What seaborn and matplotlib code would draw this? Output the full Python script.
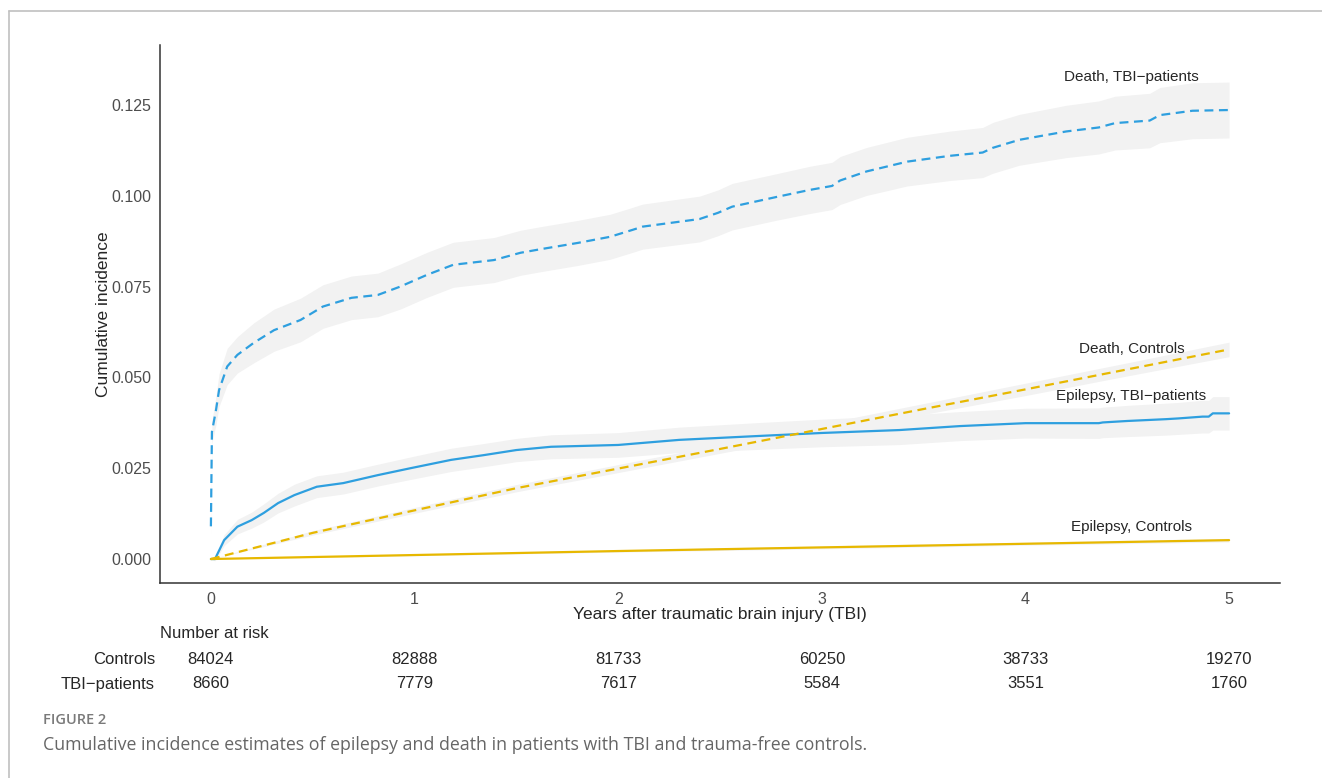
import numpy as np
import pandas as pd
import matplotlib.pyplot as plt
import matplotlib.transforms as mtransforms
from matplotlib.lines import Line2D
import seaborn as sns

# cumulative incidence (time in years)
dtbi_t = [0, 0.005, 0.025, 0.04, 0.08, 0.13, 0.21, 0.31, 0.44, 0.55, 0.69, 0.82, 0.93, 1.06,
          1.19, 1.39, 1.52, 1.62, 1.80, 1.96, 2.07, 2.12, 2.40, 2.49, 2.56, 2.78, 2.94, 3.05,
          3.09, 3.22, 3.42, 3.63, 3.79, 3.84, 3.97, 4.20, 4.36, 4.44, 4.61, 4.66, 4.82, 5.00]
dtbi_v = [0.009, 0.035, 0.041, 0.0465, 0.053, 0.0562, 0.0595, 0.063, 0.0658, 0.0695, 0.0719,
          0.0727, 0.075, 0.0782, 0.081, 0.0823, 0.0843, 0.0853, 0.087, 0.0887, 0.0906, 0.0915,
          0.0936, 0.0953, 0.097, 0.0997, 0.1016, 0.1027, 0.1042, 0.1067, 0.1094, 0.111, 0.1119,
          0.1132, 0.1154, 0.1177, 0.1188, 0.120, 0.1207, 0.1222, 0.1234, 0.1236]
dtbi_ci = [0.002, 0.003, 0.004, 0.0045, 0.005, 0.005, 0.0055, 0.0058, 0.006, 0.006, 0.006,
           0.006, 0.0062, 0.0062, 0.0062, 0.0062, 0.0062, 0.0062, 0.0062, 0.0062, 0.0062,
           0.0062, 0.0063, 0.0063, 0.0064, 0.0064, 0.0065, 0.0065, 0.0066, 0.0066, 0.0067,
           0.0068, 0.0069, 0.007, 0.007, 0.0072, 0.0073, 0.0074, 0.0075, 0.0076, 0.0077, 0.0077]

etbi_t = [0, 0.02, 0.065, 0.13, 0.20, 0.26, 0.33, 0.41, 0.52, 0.65, 0.82, 0.98, 1.18, 1.34,
          1.50, 1.67, 2.00, 2.30, 2.70, 3.00, 3.38, 3.68, 4.00, 4.36, 4.38, 4.50, 4.69, 4.75,
          4.87, 4.90, 4.92, 5.00]
etbi_v = [0, 0.0, 0.0052, 0.0089, 0.0107, 0.0127, 0.0154, 0.0176, 0.0199, 0.0209, 0.0231,
          0.025, 0.0273, 0.0286, 0.030, 0.0309, 0.0314, 0.0328, 0.0339, 0.0347, 0.0355, 0.0366,
          0.0374, 0.0374, 0.0376, 0.038, 0.0385, 0.0387, 0.0392, 0.0392, 0.0401, 0.0401]
etbi_ci = [0, 0.0005, 0.0015, 0.002, 0.0022, 0.0025, 0.0027, 0.003, 0.003, 0.003, 0.003,
           0.0031, 0.0032, 0.0032, 0.0032, 0.0033, 0.0034, 0.0035, 0.0037, 0.0038, 0.004,
           0.004, 0.0041, 0.0042, 0.0042, 0.0043, 0.0044, 0.0044, 0.0045, 0.0045, 0.0046, 0.0046]

dctl_t = [0, 0.5, 1, 1.5, 2, 2.5, 3, 3.5, 4, 4.5, 5]
dctl_v = [0, 0.0072, 0.0134, 0.0195, 0.0249, 0.0303, 0.0358, 0.0413, 0.0467, 0.0522, 0.0577]
dctl_ci = [0, 0.0006, 0.0008, 0.001, 0.0011, 0.0012, 0.0014, 0.0015, 0.0017, 0.0018, 0.002]

ectl_t = [0, 1, 2, 3, 4, 5]
ectl_v = [0, 0.0011, 0.0022, 0.0032, 0.0042, 0.0052]
ectl_ci = [0, 0.0002, 0.0003, 0.0004, 0.0004, 0.0005]

risk_times = [0, 1, 2, 3, 4, 5]
risk_controls = [84024, 82888, 81733, 60250, 38733, 19270]
risk_tbi = [8660, 7779, 7617, 5584, 3551, 1760]

parts = []
for ev, grp, t, v, ci in [('Death', 'TBI-patients', dtbi_t, dtbi_v, dtbi_ci),
                          ('Epilepsy', 'TBI-patients', etbi_t, etbi_v, etbi_ci),
                          ('Death', 'Controls', dctl_t, dctl_v, dctl_ci),
                          ('Epilepsy', 'Controls', ectl_t, ectl_v, ectl_ci)]:
    parts.append(pd.DataFrame({'time': t, 'cif': v, 'ci': ci, 'event': ev, 'group': grp}))
df = pd.concat(parts, ignore_index=True)

sns.set_style("white")
plt.rcParams['font.family'] = ['Liberation Sans', 'DejaVu Sans']

W, H = 1322, 778
fig = plt.figure(figsize=(W / 100, H / 100), dpi=100)
ax = fig.add_axes([160 / W, 195 / H, 1120 / W, 538 / H])

# confidence bands
for (ev, grp), sub in df.groupby(['event', 'group']):
    ax.fill_between(sub['time'], sub['cif'] - sub['ci'], sub['cif'] + sub['ci'],
                    color='#f2f2f2', lw=0, zorder=1)

sns.lineplot(data=df, x='time', y='cif', hue='group', style='event',
             palette={'Controls': '#E7B800', 'TBI-patients': '#2E9FDF'},
             dashes={'Death': (4, 2.5), 'Epilepsy': ''},
             estimator=None, sort=False, lw=1.6, legend=False, ax=ax, zorder=3)

ax.set_xlim(-0.25, 5.25)
ax.set_ylim(-0.0066, 0.1415)
ax.set_xticks(risk_times)
ax.set_yticks([0, 0.025, 0.05, 0.075, 0.1, 0.125])
ax.yaxis.set_major_formatter(plt.FuncFormatter(lambda v, p: f'{v:.3f}'))
for s in ['top', 'right']:
    ax.spines[s].set_visible(False)
for s in ['left', 'bottom']:
    ax.spines[s].set_color('#333333')
    ax.spines[s].set_linewidth(1.1)
ax.tick_params(length=3.5, width=0.8, color='#333333', labelsize=11.5,
               labelcolor='#4d4d4d', pad=3)
ax.set_xlabel('Years after traumatic brain injury (TBI)', fontsize=12.5, labelpad=0)
ax.set_ylabel('Cumulative incidence', fontsize=12.5, labelpad=0)

# curve labels
ax.text(4.52, 0.1327, 'Death, TBI\u2212patients', ha='center', va='center', fontsize=11)
ax.text(4.52, 0.0578, 'Death, Controls', ha='center', va='center', fontsize=11)
ax.text(4.52, 0.0449, 'Epilepsy, TBI\u2212patients', ha='center', va='center', fontsize=11)
ax.text(4.52, 0.0088, 'Epilepsy, Controls', ha='center', va='center', fontsize=11)

# number at risk table
tr = mtransforms.blended_transform_factory(ax.transData, fig.transFigure)
fig.text(160 / W, 1 - 633 / H, 'Number at risk', ha='left', va='center', fontsize=12)
fig.text(155 / W, 1 - 660 / H, 'Controls', ha='right', va='center', fontsize=12)
fig.text(155 / W, 1 - 684 / H, 'TBI\u2212patients', ha='right', va='center', fontsize=12)
for t, nc, nt in zip(risk_times, risk_controls, risk_tbi):
    fig.text(t, 1 - 660 / H, str(nc), ha='center', va='center', fontsize=12, transform=tr)
    fig.text(t, 1 - 684 / H, str(nt), ha='center', va='center', fontsize=12, transform=tr)

# page frame and caption
fig.add_artist(Line2D([9 / W, 1], [1 - 11 / H, 1 - 11 / H], color='#c0c0c0', lw=1.2))
fig.add_artist(Line2D([9 / W, 9 / W], [0, 1 - 11 / H], color='#c0c0c0', lw=1.2))
cap_font = ['Open Sans', 'DejaVu Sans']
fig.text(43 / W, 1 - 720 / H, 'FIGURE 2', ha='left', va='center', fontsize=10.5,
         color='#7a7a7a', weight='semibold', family=cap_font)
fig.text(43 / W, 1 - 745 / H,
         'Cumulative incidence estimates of epilepsy and death in patients with TBI and trauma-free controls.',
         ha='left', va='center', fontsize=12.8, color='#666666', family=cap_font)

fig.savefig('out.png', dpi=100)
